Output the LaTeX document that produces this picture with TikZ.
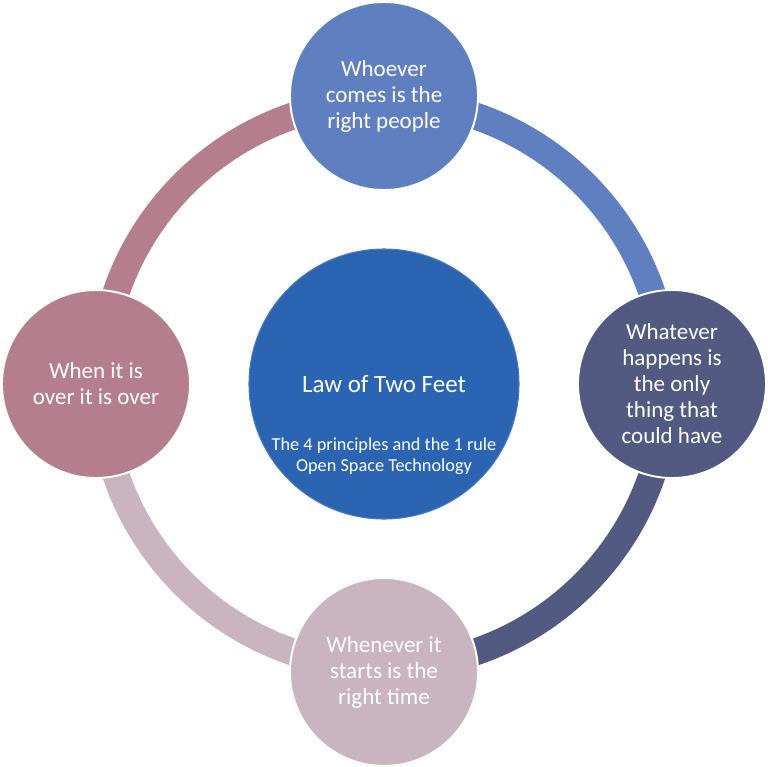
\documentclass[tikz,border=0pt]{standalone}
\usepackage{fontspec}
\setmainfont{Carlito}
\usetikzlibrary{positioning}

\definecolor{cTop}{HTML}{5F7FC1}
\definecolor{cRight}{HTML}{525A82}
\definecolor{cBottom}{HTML}{C9B4C0}
\definecolor{cLeft}{HTML}{B57E8F}
\definecolor{cCenter}{HTML}{2A64B2}

\tikzset{
  ring/.style={line width=0.54cm},
  sat/.style={circle, draw=white, line width=1.1pt, minimum size=3.76cm,
    inner sep=0pt, align=center, text=white,
    font=\fontsize{13.1}{14.8}\selectfont},
  hub/.style={circle, draw=cCenter!85!white, line width=0.6pt, fill=cCenter,
    minimum size=5.4cm, inner sep=0pt},
  hubtext/.style={text=white, align=center, inner sep=0pt}
}

\begin{document}
\begin{tikzpicture}
\useasboundingbox (-7.68,-7.64) rectangle (7.68,7.68);

% ── Anillo ────────────────────────────────────────────────────
\draw[ring, cTop]    (90:5.66)  arc (90:0:5.66);
\draw[ring, cRight]  (0:5.66)   arc (0:-90:5.66);
\draw[ring, cBottom] (-90:5.66) arc (-90:-180:5.66);
\draw[ring, cLeft]   (180:5.66) arc (180:90:5.66);

% ── Centro ────────────────────────────────────────────────────
\node[hub] (hub) at (0,0) {};
\node[hubtext, font=\fontsize{14.2}{16}\selectfont] (law) at (0,0) {Law of Two Feet};
\node[hubtext, font=\fontsize{10.4}{12.2}\selectfont, below=0.88cm of law] (sub)
    {The 4 principles and the 1 rule\\Open Space Technology};

% ── Principios ────────────────────────────────────────────────
\node[sat, fill=cTop]    (whoever)  at (90:5.76)  {Whoever\\comes is the\\right people};
\node[sat, fill=cRight]  (whatever) at (0:5.76)   {Whatever\\happens is\\the only\\thing that\\could have};
\node[sat, fill=cBottom] (whenever) at (-90:5.76) {Whenever it\\starts is the\\right time};
\node[sat, fill=cLeft]   (over)     at (180:5.76) {When it is\\over it is over};

\end{tikzpicture}
\end{document}
